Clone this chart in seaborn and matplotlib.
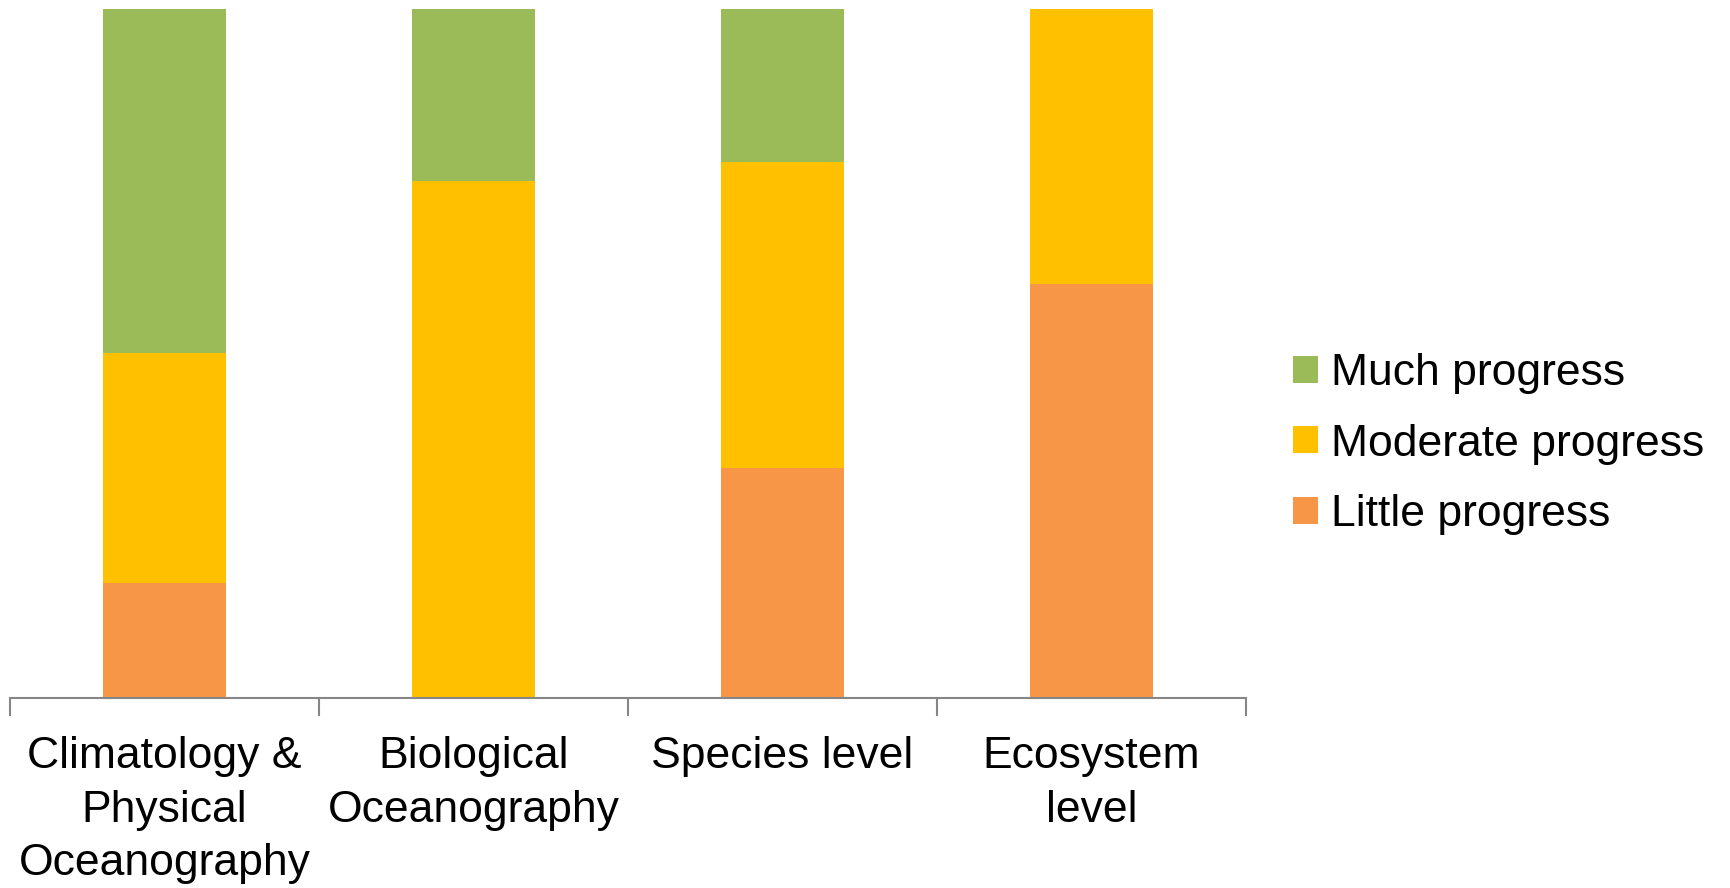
import matplotlib
matplotlib.use("Agg")
import matplotlib.pyplot as plt
from matplotlib.patches import Patch
from matplotlib.ticker import FixedLocator
import seaborn as sns
import pandas as pd
import numpy as np

categories = ["Climatology &\nPhysical\nOceanography", "Biological\nOceanography",
              "Species level", "Ecosystem\nlevel"]
little = [16.7, 0.0, 33.3, 60.0]
moderate = [33.3, 75.0, 44.4, 40.0]
much = [50.0, 25.0, 22.3, 0.0]
series_names = ["Much progress", "Moderate progress", "Little progress"]
colors = {"Much progress": "#9BBB59", "Moderate progress": "#FFC000", "Little progress": "#F79646"}

sns.set_theme(style="white")
plt.rcParams['font.family'] = ['Liberation Sans', 'DejaVu Sans']

df = pd.DataFrame({"cat": categories, "little": little, "moderate": moderate, "much": much})
df["c_little"] = df["little"]
df["c_moderate"] = df["little"] + df["moderate"]
df["c_much"] = df["c_moderate"] + df["much"]

fig = plt.figure(figsize=(17.31, 8.88), dpi=100)
ax = fig.add_axes([0.0058, 0.2145, 0.714, 0.7755])

for col, name in [("c_much", "Much progress"), ("c_moderate", "Moderate progress"), ("c_little", "Little progress")]:
    sns.barplot(data=df, x="cat", y=col, color=colors[name], width=0.4, ax=ax,
                saturation=1, linewidth=0, order=categories)

ax.set_ylim(0, 100)
ax.set_xlim(-0.5, 3.5)
ax.set_xlabel("")
ax.set_ylabel("")
ax.set_yticks([])
for s in ["top", "right", "left"]:
    ax.spines[s].set_visible(False)
ax.spines["bottom"].set_color("#868686")
ax.spines["bottom"].set_linewidth(1.5)
ax.xaxis.set_minor_locator(FixedLocator([-0.5, 0.5, 1.5, 2.5, 3.5]))
ax.tick_params(axis="x", which="minor", bottom=True, length=13, width=1.5, color="#868686")
ax.tick_params(axis="x", which="major", bottom=False, length=0, pad=28, labelsize=32, labelcolor="black")
for lbl in ax.get_xticklabels():
    lbl.set_linespacing(1.38)

handles = [Patch(facecolor=colors[n], edgecolor="none", label=n) for n in series_names]
fig.legend(handles=handles, loc="center left", bbox_to_anchor=(0.724, 0.5), frameon=False,
           fontsize=32, labelcolor="black", handlelength=0.55, handleheight=0.55,
           handletextpad=0.3, labelspacing=0.66)

fig.savefig("out.png", dpi=100, facecolor="white")
